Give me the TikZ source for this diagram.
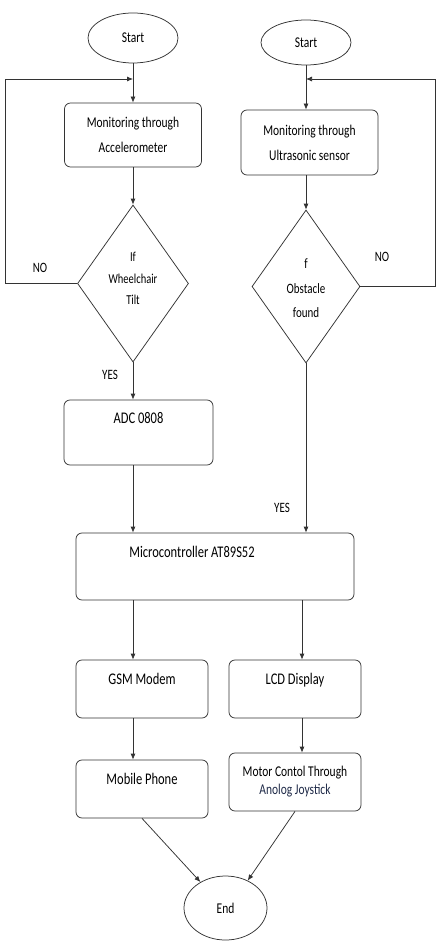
\documentclass[tikz,border=0pt]{standalone}
\usepackage{fontspec}
\setmainfont{Carlito}
\usetikzlibrary{shapes.geometric,arrows.meta,calc}
\definecolor{ln}{HTML}{333333}
\definecolor{navy}{HTML}{1F2A48}
\newcommand{\tall}[1]{\scalebox{1}[1.3]{#1}}
\begin{document}
\begin{tikzpicture}[x=1pt,y=-1pt,
 line/.style={draw=ln, line width=0.75pt},
 arr/.style={line, -{Latex[length=6pt,width=5pt]}},
 box/.style={line, rounded corners=6pt, inner sep=0pt, align=center, font=\fontsize{11.5}{25}\selectfont},
 oval/.style={line, ellipse, inner sep=0pt, font=\fontsize{11.5}{14}\selectfont},
 dec/.style={line, diamond, inner sep=0pt},
 dtext/.style={inner sep=0pt, align=center},
 toplbl/.style={anchor=north, inner sep=0pt, yshift=-13pt, font=\fontsize{12.5}{14}\selectfont},
 tag/.style={inner sep=0pt, font=\fontsize{11}{13}\selectfont}
]
\useasboundingbox (0,0) rectangle (441,952);
\fill[white] (0,0) rectangle (441,952);

\node[oval, minimum width=90pt, minimum height=50pt] (start1) at (133,38) {\tall{Start}};
\node[oval, minimum width=90pt, minimum height=45pt] (start2) at (306,42.5) {\tall{Start}};

\node[box, minimum width=137pt, minimum height=64pt] (mon1) at (133,135) {\tall{Monitoring through}\\\tall{Accelerometer}};
\node[box, minimum width=137pt, minimum height=65pt] (mon2) at (309.5,142.5) {\tall{Monitoring through}\\\tall{Ultrasonic sensor}};

\node[dec, minimum width=111pt, minimum height=157pt,
  label={[dtext, yshift=5pt, font=\fontsize{10.5}{21.5}\selectfont]center:{\tall{If}\\\tall{Wheelchair}\\\tall{Tilt}}}] (dia1) at (133,283.5) {};
\node[dec, minimum width=108pt, minimum height=153pt,
  label={[dtext, yshift=-2pt, font=\fontsize{11}{24.5}\selectfont]center:{\tall{f}\\\tall{Obstacle}\\\tall{found}}}] (dia2) at (306,286.5) {};

\node[box, minimum width=149pt, minimum height=65pt, label={[toplbl]north:\tall{ADC 0808}}] (adc) at (138.5,432.5) {};
\node[box, minimum width=278pt, minimum height=67pt, label={[toplbl, xshift=-23pt]north:\tall{Microcontroller AT89S52}}] (micro) at (215,566.5) {};

\node[box, minimum width=132pt, minimum height=58pt, label={[toplbl]north:\tall{GSM Modem}}] (gsm) at (142,689) {};
\node[box, minimum width=132pt, minimum height=58pt, label={[toplbl]north:\tall{LCD Display}}] (lcd) at (295,689) {};
\node[box, minimum width=132pt, minimum height=58pt, label={[toplbl]north:\tall{Mobile Phone}}] (mobile) at (142,789) {};
\node[box, minimum width=132pt, minimum height=58pt, font=\fontsize{11.5}{18}\selectfont] (motor) at (295,782) {\tall{Motor Contol Through}\\\textcolor{navy}{\tall{Anolog Joystick}}};

\node[oval, minimum width=83pt, minimum height=64pt] (endn) at (225.5,908) {\tall{End}};

\coordinate (j1) at (133,79);
\coordinate (j2) at (306,79);
\coordinate (c1) at (5,79);
\coordinate (c2) at (435,79);
\coordinate (lx) at ($(lcd.north)+(7,0)$);
\coordinate (mx) at ($(motor.north)+(7,0)$);

\draw[arr] (start1) -- (mon1);
\draw[arr] (start2.south) -- (start2.south |- mon2.north);
\draw[arr] (dia1.west) -| (c1) -- (j1);
\draw[arr] (dia2.east) -| (c2) -- (j2);
\draw[arr] (mon1) -- (dia1);
\draw[arr] (mon2.south -| dia2) -- (dia2.north);
\draw[arr] (dia1.south) -- (dia1.south |- adc.north);
\draw[arr] (adc.south -| dia1) -- (micro.north -| dia1);
\draw[arr] (dia2.south) -- (dia2.south |- micro.north);
\draw[arr] (micro.south -| dia1) -- (gsm.north -| dia1);
\draw[arr] (lx |- micro.south) -- (lx);
\draw[arr] (gsm.south -| dia1) -- (mobile.north -| dia1);
\draw[arr] (lx |- lcd.south) -- (mx);
\draw[arr] (mobile.south) -- (endn.134);
\draw[arr] (motor.south) -- (endn.51);

\node[tag] (no1) at (40,268) {\tall{NO}};
\node[tag] (no2) at (382,257) {\tall{NO}};
\node[tag] (yes1) at (110,375) {\tall{YES}};
\node[tag] (yes2) at (282,508) {\tall{YES}};
\end{tikzpicture}
\end{document}
